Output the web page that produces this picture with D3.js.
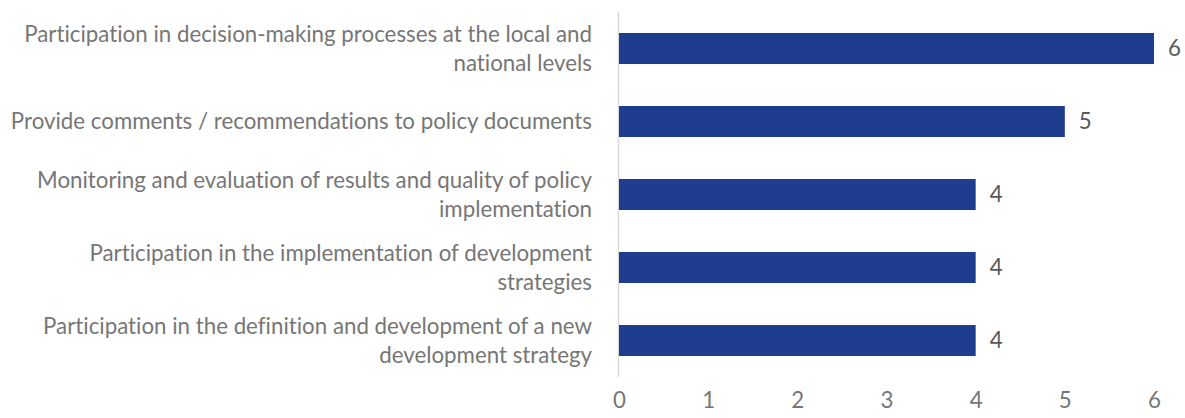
<!DOCTYPE html>
<html>
<head>
<meta charset="utf-8">
<script src="https://cdn.jsdelivr.net/npm/d3@7"></script>
<style>
  html, body { margin: 0; padding: 0; background: #fff; }
  svg { display: block; }
  text { font-family: Lato, "Open Sans", sans-serif; font-variant-ligatures: none; font-feature-settings: "liga" 0, "clig" 0; }
</style>
</head>
<body>
<svg id="chart" width="1185" height="418"></svg>
<script>
// Categories, top to bottom, each split into its display lines
const categories = [
  ["Participation in decision-making processes at the local and", "national levels"],
  ["Provide comments / recommendations to policy documents"],
  ["Monitoring and evaluation of results and quality of policy", "implementation"],
  ["Participation in the implementation of development", "strategies"],
  ["Participation in the definition and development of a new", "development strategy"]
];
const values = [6, 5, 4, 4, 4];
const tickValues = [0, 1, 2, 3, 4, 5, 6];

const svg = d3.select("#chart");
const margin = { left: 619, right: 31, top: 12, bottom: 41 };
const W = 1185, H = 418;
const fontSize = 22.3;

const x = d3.scaleLinear().domain([0, 6]).range([margin.left, W - margin.right]);
const y = d3.scaleBand()
  .domain(d3.range(categories.length))
  .range([margin.top, H - margin.bottom])
  .paddingInner(0.575)
  .paddingOuter(0.2875);

// Vertical category axis line
svg.append("line")
  .attr("x1", margin.left - 0.5).attr("x2", margin.left - 0.5)
  .attr("y1", margin.top).attr("y2", H - margin.bottom)
  .attr("stroke", "#d9d9d9").attr("stroke-width", 1.5);

// Bars
svg.selectAll("rect.bar").data(values).enter().append("rect")
  .attr("class", "bar")
  .attr("x", x(0))
  .attr("y", (d, i) => y(i))
  .attr("width", d => x(d) - x(0))
  .attr("height", y.bandwidth())
  .attr("fill", "#1f3d8f");

// Value labels
svg.selectAll("text.val").data(values).enter().append("text")
  .attr("class", "val")
  .attr("x", d => x(d) + 14)
  .attr("y", (d, i) => y(i) + y.bandwidth() / 2)
  .attr("dy", "0.35em")
  .attr("font-size", fontSize)
  .attr("fill", "#595959")
  .text(d => d);

// Category labels, right-aligned against the axis
const lineH = 29;
const labels = svg.selectAll("text.cat").data(categories).enter().append("text")
  .attr("class", "cat")
  .attr("text-anchor", "end")
  .attr("font-size", fontSize)
  .attr("fill", "#767676")
  .attr("transform", (d, i) => `translate(${margin.left - 27},${y(i) + y.bandwidth() / 2})`);
labels.selectAll("tspan").data(d => d.map((t, k) => ({ t, k, n: d.length }))).enter()
  .append("tspan")
  .attr("x", 0)
  .attr("y", d => (d.k - (d.n - 1) / 2) * lineH)
  .attr("dy", "0.35em")
  .text(d => d.t);

// Value axis ticks
const axis = d3.axisBottom(x).tickValues(tickValues).tickFormat(d3.format("d"))
  .tickSize(0).tickPadding(0);
const gx = svg.append("g").attr("transform", `translate(0,${H - 10})`).call(axis);
gx.select(".domain").remove();
gx.selectAll("text")
  .attr("font-size", fontSize)
  .attr("fill", "#767676")
  .attr("dy", 0)
  .style("font-family", "Lato, 'Open Sans', sans-serif");
</script>
</body>
</html>
